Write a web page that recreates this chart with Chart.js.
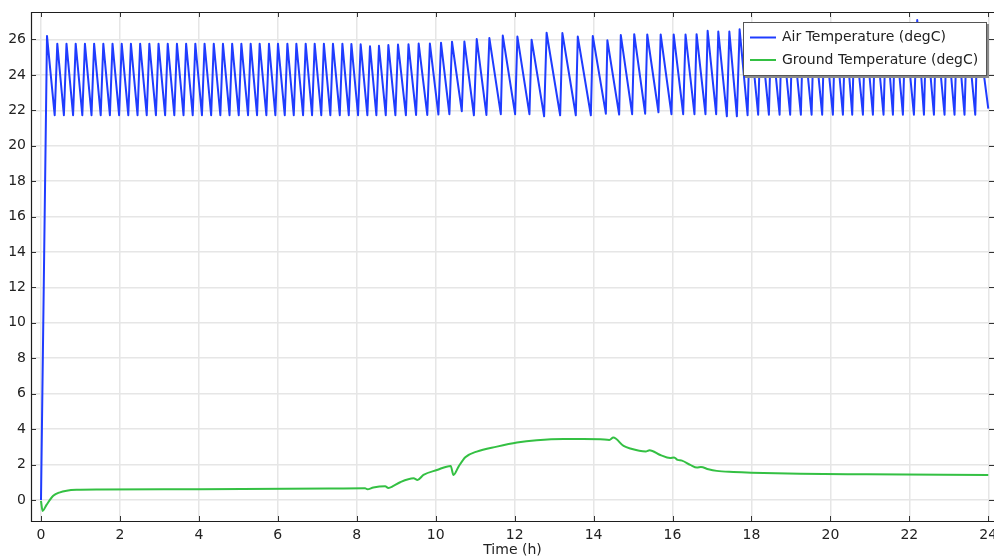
<!DOCTYPE html>
<html>
<head>
<meta charset="utf-8">
<script src="https://cdn.jsdelivr.net/npm/chart.js@4.4.1/dist/chart.umd.min.js"></script>
<style>
  html, body { margin: 0; padding: 0; background: #ffffff; }
  #wrap { width: 994px; height: 556px; }
</style>
</head>
<body>
<div id="wrap"><canvas id="c" width="994" height="556"></canvas></div>
<script>
// ---------- DATA ----------
const seriesNames = ['Air Temperature (degC)', 'Ground Temperature (degC)'];
const xTitle = 'Time (h)';

// Air temperature: turning points (trough, peak, trough, peak ...) in hours / degC
const airTime = [
  0, 0.152,
  0.347, 0.413, 0.580, 0.646, 0.813, 0.879, 1.047, 1.113, 1.280, 1.346,
  1.513, 1.579, 1.746, 1.812, 1.979, 2.045, 2.212, 2.278, 2.446, 2.512,
  2.679, 2.745, 2.912, 2.978, 3.145, 3.211, 3.378, 3.444, 3.611, 3.677,
  3.844, 3.910, 4.078, 4.144, 4.311, 4.377, 4.544, 4.610, 4.777, 4.843,
  5.010, 5.076, 5.246, 5.312, 5.474, 5.540, 5.710, 5.776, 5.938, 6.004,
  6.176, 6.242, 6.404, 6.470, 6.640, 6.706, 6.868, 6.934, 7.101, 7.167,
  7.331, 7.397, 7.570, 7.636, 7.798, 7.864, 8.033, 8.099, 8.269, 8.335,
  8.497, 8.563, 8.735, 8.801, 8.979, 9.045, 9.245, 9.311, 9.503, 9.569,
  9.787, 9.853, 10.069, 10.135, 10.347, 10.413, 10.661, 10.727, 10.968, 11.04,
  11.285, 11.36, 11.650, 11.70, 12.012, 12.07, 12.375, 12.43, 12.747, 12.81,
  13.153, 13.21, 13.550, 13.60, 13.931, 13.98, 14.311, 14.35, 14.648, 14.69,
  14.977, 15.03, 15.307, 15.36, 15.644, 15.70, 15.973, 16.03, 16.270, 16.33,
  16.556, 16.61, 16.835, 16.89, 17.106, 17.16, 17.377, 17.44, 17.631, 17.70,
  17.902, 17.96, 18.170, 18.23, 18.442, 18.50, 18.713, 18.77, 18.981, 19.04,
  19.252, 19.31, 19.524, 19.58, 19.792, 19.85, 20.063, 20.12, 20.317, 20.38,
  20.553, 20.61, 20.824, 20.88, 21.077, 21.14, 21.346, 21.41, 21.584, 21.64,
  21.837, 21.90, 22.116, 22.20, 22.370, 22.43, 22.623, 22.68, 22.892, 22.95,
  23.145, 23.21, 23.398, 23.46, 23.670, 23.73, 24.0
];
const airTemp = [
  0, 26.2,
  21.72, 25.76, 21.72, 25.76, 21.72, 25.76, 21.72, 25.76, 21.72, 25.76,
  21.72, 25.76, 21.72, 25.76, 21.72, 25.76, 21.72, 25.76, 21.72, 25.76,
  21.72, 25.76, 21.72, 25.76, 21.72, 25.76, 21.72, 25.76, 21.72, 25.76,
  21.72, 25.76, 21.72, 25.76, 21.72, 25.76, 21.72, 25.76, 21.72, 25.76,
  21.72, 25.76, 21.72, 25.76, 21.72, 25.76, 21.72, 25.76, 21.72, 25.76,
  21.72, 25.76, 21.72, 25.76, 21.72, 25.76, 21.72, 25.76, 21.72, 25.76,
  21.72, 25.76, 21.72, 25.76, 21.72, 25.75, 21.72, 25.73, 21.72, 25.62,
  21.72, 25.64, 21.72, 25.68, 21.72, 25.71, 21.72, 25.73, 21.74, 25.77,
  21.74, 25.77, 21.76, 25.81, 21.78, 25.87, 21.95, 25.88, 21.72, 26.02,
  21.74, 26.08, 21.78, 26.22, 21.78, 26.16, 21.78, 25.99, 21.66, 26.38,
  21.72, 26.36, 21.72, 26.16, 21.72, 26.20, 21.81, 25.95, 21.76, 26.25,
  21.78, 26.30, 21.81, 26.28, 21.89, 26.28, 21.78, 26.28, 21.78, 26.28,
  21.78, 26.30, 21.78, 26.49, 21.78, 26.45, 21.66, 26.45, 21.66, 26.57,
  21.72, 26.60, 21.75, 26.65, 21.75, 26.60, 21.75, 26.70, 21.75, 26.65,
  21.75, 26.70, 21.75, 26.65, 21.75, 26.70, 21.75, 26.70, 21.75, 26.75,
  21.75, 26.70, 21.75, 26.75, 21.75, 26.70, 21.75, 26.75, 21.75, 26.70,
  21.75, 26.80, 21.75, 27.10, 21.75, 26.70, 21.75, 26.75, 21.75, 26.70,
  21.75, 26.75, 21.75, 26.70, 21.75, 26.75, 22.10
];

// Ground temperature: sampled along the curve
const groundTime = [
  0, 0.04, 0.14, 0.31, 0.48, 0.65, 0.9, 1.5, 4.0, 7.3, 8.21, 8.27, 8.42, 8.72,
  8.80, 8.93, 9.10, 9.44, 9.54, 9.69, 10.03, 10.38, 10.45, 10.58, 10.75, 11.04,
  11.55, 12.06, 12.56, 13.24, 13.74, 14.17, 14.40, 14.50, 14.76, 14.93, 15.32,
  15.42, 15.69, 15.94, 16.04, 16.13, 16.24, 16.45, 16.62, 16.72, 16.91, 17.12,
  17.54, 18.0, 19.23, 20.92, 24.0
];
const groundTemp = [
  -0.05, -0.62, -0.28, 0.23, 0.43, 0.52, 0.57, 0.59, 0.60, 0.64, 0.66, 0.60, 0.70, 0.77,
  0.68, 0.79, 1.00, 1.22, 1.13, 1.41, 1.69, 1.92, 1.41, 1.88, 2.41, 2.73,
  3.01, 3.24, 3.37, 3.44, 3.44, 3.43, 3.39, 3.52, 3.05, 2.90, 2.73,
  2.81, 2.54, 2.37, 2.40, 2.26, 2.22, 1.98, 1.83, 1.86, 1.73, 1.64,
  1.58, 1.54, 1.48, 1.45, 1.41
];

// axis ranges / tick steps
const xRange = [-0.253, 24.145];
const yRange = [-1.19, 27.55];
const xStep = 2;
const yStep = 2;

// ---------- CHART ----------
const FONT = 'DejaVu Sans';
Chart.defaults.font.family = FONT;
Chart.defaults.font.size = 14;
Chart.defaults.color = '#222';

const colors = ['#1f3cff', '#34c043'];

const toPts = (xs, ys) => xs.map((t, i) => ({ x: t, y: ys[i] }));

const framePlugin = {
  id: 'frame',
  afterDatasetsDraw(chart) {
    const { ctx, chartArea: a, scales: { x, y } } = chart;
    ctx.save();
    // ticks (inward, all four sides)
    ctx.strokeStyle = '#333';
    ctx.lineWidth = 1;
    ctx.beginPath();
    x.ticks.forEach(t => {
      const px = Math.round(x.getPixelForValue(t.value)) + 0.5;
      ctx.moveTo(px, a.top); ctx.lineTo(px, a.top + 5);
      ctx.moveTo(px, a.bottom); ctx.lineTo(px, a.bottom - 5);
    });
    y.ticks.forEach(t => {
      const py = Math.round(y.getPixelForValue(t.value)) + 0.5;
      ctx.moveTo(a.left, py); ctx.lineTo(a.left + 5, py);
      ctx.moveTo(a.right, py); ctx.lineTo(a.right - 5, py);
    });
    ctx.stroke();
    // frame: left, top, bottom (right border lies outside the picture)
    ctx.strokeStyle = '#1e1e1e';
    ctx.lineWidth = 1.2;
    const L = Math.round(a.left) + 0.5, T = Math.round(a.top) + 0.5, B = Math.round(a.bottom) + 0.5;
    ctx.beginPath();
    ctx.moveTo(a.right + 2, T); ctx.lineTo(L, T); ctx.lineTo(L, B); ctx.lineTo(a.right + 2, B);
    ctx.stroke();
    ctx.restore();
  },
  afterDraw(chart) {
    // legend box inside the plot (top-right)
    const { ctx } = chart;
    const bx = 743, by = 22, bw = 244, bh = 54;
    ctx.save();
    ctx.fillStyle = '#8a8a8a';
    ctx.fillRect(bx + 2, by + 2, bw, bh);
    ctx.fillStyle = '#ffffff';
    ctx.fillRect(bx, by, bw, bh);
    ctx.strokeStyle = '#555';
    ctx.lineWidth = 1;
    ctx.strokeRect(bx + 0.5, by + 0.5, bw - 1, bh - 1);
    ctx.font = '14px "' + FONT + '"';
    ctx.textBaseline = 'middle';
    ctx.textAlign = 'left';
    chart.data.datasets.forEach((ds, i) => {
      const ry = by + 15.5 + i * 22.5;
      ctx.strokeStyle = ds.borderColor;
      ctx.lineWidth = 2;
      ctx.beginPath();
      ctx.moveTo(bx + 7, ry); ctx.lineTo(bx + 33, ry);
      ctx.stroke();
      ctx.fillStyle = '#222';
      ctx.fillText(ds.label, bx + 39, ry);
    });
    ctx.restore();
  }
};

const chart = new Chart(document.getElementById('c'), {
  type: 'line',
  data: {
    datasets: [
      {
        label: seriesNames[0],
        data: toPts(airTime, airTemp),
        borderColor: colors[0],
        borderWidth: 2,
        pointRadius: 0,
        tension: 0,
        borderJoinStyle: 'round',
        fill: false
      },
      {
        label: seriesNames[1],
        data: toPts(groundTime, groundTemp),
        borderColor: colors[1],
        borderWidth: 2,
        pointRadius: 0,
        cubicInterpolationMode: 'monotone',
        borderJoinStyle: 'round',
        fill: false
      }
    ]
  },
  options: {
    responsive: false,
    animation: false,
    devicePixelRatio: 1,
    layout: { padding: { top: 12, right: 0, left: 0, bottom: 0 } },
    plugins: {
      legend: { display: false },
      tooltip: { enabled: false }
    },
    scales: {
      x: {
        type: 'linear',
        min: xRange[0],
        max: xRange[1],
        afterFit: s => { s.height = 35; s.paddingLeft = 0; s.paddingRight = 0; },
        afterBuildTicks: s => { s.ticks = s.ticks.filter(t => Math.abs(t.value / xStep - Math.round(t.value / xStep)) < 1e-6); },
        ticks: { stepSize: xStep, includeBounds: false, padding: 6, color: '#222', maxRotation: 0,
                 font: { size: 14, family: FONT } },
        grid: { color: '#e6e6e6', lineWidth: 1.5, drawTicks: false },
        border: { display: false },
        title: { display: true, text: xTitle, color: '#222', font: { size: 14, family: FONT },
                 padding: { top: 0, bottom: -3 } }
      },
      y: {
        type: 'linear',
        min: yRange[0],
        max: yRange[1],
        afterFit: s => { s.width = 31; s.paddingTop = 0; s.paddingBottom = 0; },
        afterBuildTicks: s => { s.ticks = s.ticks.filter(t => Math.abs(t.value / yStep - Math.round(t.value / yStep)) < 1e-6); },
        ticks: { stepSize: yStep, includeBounds: false, padding: 5, color: '#222',
                 font: { size: 14, family: FONT } },
        grid: { color: '#e6e6e6', lineWidth: 1.5, drawTicks: false },
        border: { display: false }
      }
    }
  },
  plugins: [framePlugin]
});
</script>
</body>
</html>
